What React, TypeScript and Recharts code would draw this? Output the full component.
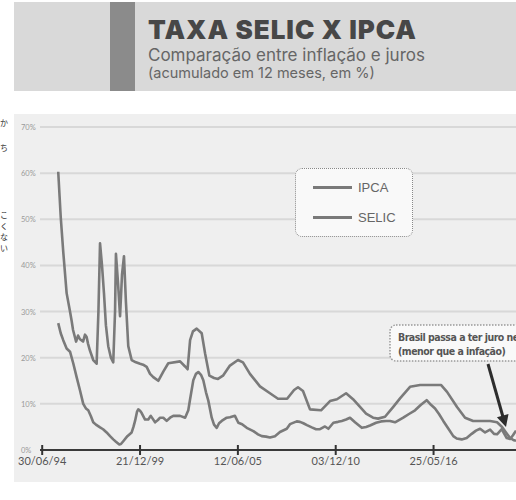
import React from "react";
import { LineChart, Line, XAxis, YAxis, CartesianGrid, Legend } from "recharts";

// datas em anos decimais, valores acumulados em 12 meses (%)
const ipcaDates = [
  1995.39, 1995.53, 1995.67, 1995.86, 1996.05, 1996.23, 1996.42, 1996.61, 1996.79, 1996.94,
  1997.07, 1997.22, 1997.35, 1997.5, 1997.73, 1997.9, 1998.1, 1998.29, 1998.47, 1998.62,
  1998.81, 1998.9, 1999.03, 1999.26, 1999.5, 1999.6, 1999.69, 1999.8, 1999.87, 1999.97,
  2000.06, 2000.25, 2000.43, 2000.57, 2000.81, 2000.97, 2001.09, 2001.27, 2001.46, 2001.65,
  2001.83, 2002.21, 2002.49, 2002.67, 2002.77, 2002.95, 2003.1, 2003.23, 2003.38, 2003.51,
  2003.66, 2003.79, 2003.98, 2004.11, 2004.26, 2004.39, 2004.54, 2004.82, 2005.0, 2005.28,
  2005.47, 2005.68, 2005.94, 2006.31, 2006.57, 2006.78, 2007.02, 2007.24, 2007.52, 2007.8,
  2008.18, 2008.36, 2008.74, 2008.92, 2009.11, 2009.31, 2009.58, 2009.82, 2010.04, 2010.32,
  2010.51, 2010.79, 2011.05, 2011.26, 2011.5, 2011.72, 2012.0, 2012.38, 2012.62, 2012.84,
  2013.18, 2013.46, 2013.74, 2013.96, 2014.24, 2014.7, 2015.02, 2015.36, 2015.69, 2016.01,
  2016.25, 2016.48, 2016.7, 2016.94, 2017.21, 2017.5, 2017.69, 2017.97, 2018.25, 2018.53,
  2018.77, 2019.0, 2019.28, 2019.56, 2019.78, 2019.95, 2020.21, 2020.34, 2020.49, 2020.68,
  2020.84, 2021.01,
];
const ipcaValues = [
  27.5, 25.3, 23.8, 22.0, 21.3, 18.8, 15.8, 12.9, 10.0, 9.0,
  8.6, 7.3, 6.0, 5.5, 4.9, 4.5, 3.8, 3.0, 2.3, 1.8,
  1.2, 1.3, 1.9, 3.0, 3.8, 5.0, 6.3, 8.3, 8.8, 8.5,
  8.0, 6.6, 6.6, 7.4, 6.0, 6.5, 7.0, 7.0, 6.3, 7.0,
  7.4, 7.4, 7.0, 8.6, 11.0, 15.1, 16.5, 16.9, 16.3, 15.1,
  12.5, 10.7, 7.0, 5.5, 4.8, 5.8, 6.3, 7.0, 7.1, 7.4,
  5.9, 5.6, 4.8, 4.1, 3.4, 3.0, 2.9, 2.7, 3.0, 3.9,
  4.6, 5.6, 6.2, 6.1, 5.8, 5.4, 4.9, 4.5, 4.5, 5.1,
  4.6, 5.9, 6.1, 6.3, 6.6, 7.0, 6.0, 4.8, 5.0, 5.3,
  5.9, 6.2, 6.3, 6.3, 6.0, 7.0, 7.8, 8.6, 9.8, 10.8,
  9.8, 9.0, 7.8, 6.3, 4.7, 3.0, 2.5, 2.3, 2.6, 3.5,
  4.2, 4.6, 3.8, 4.4, 3.5, 3.4, 4.5, 3.6, 2.6, 2.4,
  3.2, 4.2,
];

const selicDates = [
  1995.39, 1995.53, 1995.67, 1995.86, 1996.05, 1996.14, 1996.22, 1996.39, 1996.5, 1996.61,
  1996.78, 1996.89, 1996.98, 1997.06, 1997.17, 1997.35, 1997.54, 1997.64, 1997.73, 1997.84,
  1997.95, 1998.06, 1998.19, 1998.34, 1998.47, 1998.57, 1998.62, 1998.74, 1998.85, 1998.96,
  1999.07, 1999.18, 1999.31, 1999.5, 1999.74, 1999.97, 2000.14, 2000.34, 2000.53, 2000.71,
  2000.99, 2001.27, 2001.55, 2002.21, 2002.49, 2002.63, 2002.77, 2002.93, 2003.14, 2003.42,
  2003.61, 2003.85, 2004.11, 2004.33, 2004.61, 2005.0, 2005.45, 2005.73, 2006.12, 2006.68,
  2007.24, 2007.69, 2008.2, 2008.59, 2008.81, 2009.09, 2009.48, 2010.1, 2010.6, 2010.99,
  2011.5, 2011.89, 2012.62, 2013.01, 2013.29, 2013.68, 2014.13, 2014.52, 2015.08, 2015.64,
  2016.81, 2017.15, 2017.71, 2018.16, 2018.61, 2019.56, 2019.95, 2020.23, 2020.45, 2020.68,
  2020.9, 2021.01,
];
const selicValues = [
  60.3, 50.5, 43.0, 34.0, 30.0, 28.0, 26.0, 23.5, 24.8, 24.0,
  23.5, 25.0, 24.5, 23.0, 21.5, 19.5, 18.7, 30.0, 44.8, 40.0,
  34.0, 27.0, 22.5, 20.0, 19.0, 30.0, 42.5, 36.0, 29.0, 38.0,
  42.0, 32.0, 22.5, 19.5, 19.0, 18.7, 18.5, 18.0, 16.5, 15.8,
  15.0, 17.0, 18.8, 19.2, 18.1, 17.5, 23.8, 25.7, 26.3, 25.3,
  20.9, 16.1, 15.6, 15.4, 16.1, 18.3, 19.5, 19.0, 16.5, 13.8,
  12.3, 11.1, 11.1, 13.0, 13.6, 12.8, 8.8, 8.6, 10.6, 11.0,
  12.3, 11.0, 7.9, 7.0, 6.8, 7.2, 9.3, 11.2, 13.7, 14.1,
  14.1, 12.6, 9.3, 7.0, 6.3, 6.3, 6.0, 5.0, 3.8, 2.6,
  2.1, 2.0,
];

const yTicks = [0, 10, 20, 30, 40, 50, 60, 70];
const xTicks = [1994.4932, 1999.9689, 2005.4446, 2010.9203, 2016.396];
const xTickLabels = ["30/06/94", "21/12/99", "12/06/05", "03/12/10", "25/05/16"];

const ipcaData = ipcaDates.map((t, i) => ({ t, v: ipcaValues[i] }));
const selicData = selicDates.map((t, i) => ({ t, v: selicValues[i] }));

const LINE = "#7a7a7a";

function XTick({ x, y, payload }: any) {
  const i = xTicks.indexOf(payload.value);
  return (
    <g>
      <line x1={x} x2={x} y1={y - 5} y2={y + 5} stroke="#333" strokeWidth={2} />
      <text x={x} y={y + 15} textAnchor="middle" fontSize={11} fill="#555" fontFamily="Lato, sans-serif">
        {xTickLabels[i]}
      </text>
    </g>
  );
}

function YTick({ y, payload }: any) {
  return (
    <text x={7} y={y + 3} fontSize={7.5} fill="#9a9a9a" fontFamily="Lato, sans-serif">
      {payload.value}%
    </text>
  );
}

function LegendBox({ payload }: any) {
  return (
    <div
      style={{
        width: 118,
        height: 69,
        boxSizing: "border-box",
        border: "1.5px dotted #888",
        borderRadius: 7,
        background: "#f9f9f9",
        padding: "3px 0 0 17px",
      }}
    >
      {(payload || []).map((e: any) => (
        <div key={e.value} style={{ display: "flex", alignItems: "center", height: 30 }}>
          <span style={{ display: "inline-block", width: 39, height: 3, background: e.color }} />
          <span style={{ marginLeft: 6, fontSize: 13, color: "#666", fontFamily: "'Liberation Sans', Arial, sans-serif" }}>
            {e.value}
          </span>
        </div>
      ))}
    </div>
  );
}

export default function App() {
  return (
    <div style={{ position: "relative", width: 516, height: 500, overflow: "hidden", background: "#fff" }}>
      <style>{`body{margin:0}`}</style>
      <svg width={516} height={500} style={{ position: "absolute", left: 0, top: 0 }}>
        <rect x={14} y={2} width={502} height={89} fill="#d9d9d9" />
        <rect x={110} y={2} width={25} height={89} fill="#8b8b8b" />
        <text x={148} y={39} fontSize={26} fontWeight={900} fill="#474747" fontFamily="Inter, sans-serif" letterSpacing={1}>
          TAXA SELIC X IPCA
        </text>
        <text x={148} y={61} fontSize={17} fill="#666" fontFamily="Inter, sans-serif">
          Comparação entre inflação e juros
        </text>
        <text x={148} y={78} fontSize={14.5} fill="#666" fontFamily="Inter, sans-serif">
          (acumulado em 12 meses, em %)
        </text>
        <rect x={14} y={114} width={502} height={368} fill="#efefef" />
        <g fontSize={8} fill="#333" fontFamily="'Noto Sans CJK JP', sans-serif">
          <text x={0} y={126}>か</text>
          <text x={0} y={151}>ち</text>
          <text x={0} y={218}>こ</text>
          <text x={0} y={229}>く</text>
          <text x={0} y={240}>な</text>
          <text x={0} y={251}>い</text>
        </g>
      </svg>
      <div style={{ position: "absolute", left: 14, top: 114 }}>
        <LineChart width={502} height={368} margin={{ top: 13, right: 0, bottom: 0, left: 0 }}>
          <CartesianGrid vertical={false} stroke="#d8d8d8" strokeWidth={2} />
          <XAxis
            type="number"
            dataKey="t"
            domain={[1994.37, 2021.01]}
            allowDataOverflow
            ticks={xTicks}
            tick={<XTick />}
            tickSize={0}
            tickMargin={0}
            tickLine={false}
            axisLine={{ stroke: "#3a3a3a", strokeWidth: 2 }}
            height={32}
            interval={0}
          />
          <YAxis
            type="number"
            domain={[0, 70]}
            ticks={yTicks}
            tick={<YTick />}
            tickLine={false}
            axisLine={false}
            width={26}
            interval={0}
          />
          <Legend
            layout="vertical"
            align="center"
            verticalAlign="middle"
            content={<LegendBox />}
            wrapperStyle={{ left: 281, top: 54, width: 118 }}
          />
          <Line data={ipcaData} dataKey="v" name="IPCA" stroke={LINE} strokeWidth={2.6} dot={false} isAnimationActive={false} strokeLinejoin="round" />
          <Line data={selicData} dataKey="v" name="SELIC" stroke={LINE} strokeWidth={2.6} dot={false} isAnimationActive={false} strokeLinejoin="round" />
        </LineChart>
      </div>
      <svg width={516} height={500} style={{ position: "absolute", left: 0, top: 0, pointerEvents: "none" }}>
        <rect x={390} y={325} width={160} height={36} rx={6} fill="#f9f9f9" stroke="#999" strokeWidth={1.5} strokeDasharray="1.5 1.5" />
        <g fontSize={10.5} fontWeight={700} fill="#555" fontFamily="'Liberation Sans Narrow', 'DejaVu Sans Condensed', sans-serif" letterSpacing={-0.5}>
          <text x={398} y={341}>Brasil passa a ter juro negativo</text>
          <text x={398} y={355}>(menor que a infação)</text>
        </g>
        <line x1={488} y1={364} x2={503} y2={417} stroke="#2d2d2d" strokeWidth={3} />
        <polygon points="506,427 508.5,413.9 496.9,417.2" fill="#2d2d2d" />
      </svg>
    </div>
  );
}
